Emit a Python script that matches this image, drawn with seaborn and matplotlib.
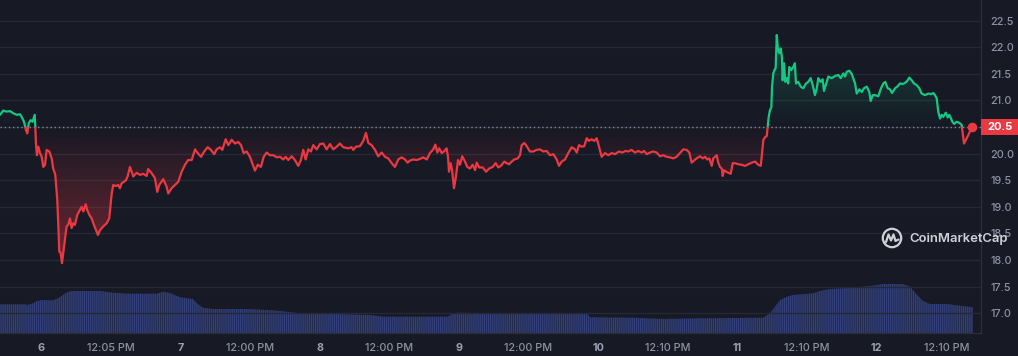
import numpy as np
import pandas as pd
import seaborn as sns
import matplotlib
matplotlib.use("Agg")
import matplotlib.pyplot as plt
import matplotlib.transforms as mtrans
from matplotlib.patches import Rectangle, Circle
from matplotlib.path import Path
from matplotlib.lines import Line2D
from matplotlib.colors import to_rgb

# ---------------- data ----------------
days = [
    5.706, 5.729, 5.754, 5.778, 5.801, 5.826, 5.850, 5.862, 5.878, 5.893,
    5.902, 5.912, 5.926, 5.940, 5.955, 5.959, 5.964, 5.971, 5.981, 5.993,
    6.005, 6.017, 6.029, 6.041, 6.060, 6.077, 6.088, 6.103, 6.117, 6.127,
    6.131, 6.141, 6.151, 6.160, 6.172, 6.184, 6.196, 6.208, 6.220, 6.232,
    6.244, 6.261, 6.280, 6.292, 6.304, 6.321, 6.332, 6.347, 6.364, 6.380,
    6.395, 6.409, 6.424, 6.447, 6.472, 6.490, 6.508, 6.519, 6.538, 6.555,
    6.567, 6.579, 6.596, 6.610, 6.622, 6.639, 6.651, 6.663, 6.687, 6.711,
    6.734, 6.759, 6.770, 6.795, 6.818, 6.835, 6.849, 6.878, 6.902, 6.914,
    6.938, 6.962, 6.986, 7.010, 7.034, 7.057, 7.082, 7.106, 7.125, 7.149,
    7.172, 7.197, 7.220, 7.244, 7.261, 7.285, 7.302, 7.326, 7.345, 7.369,
    7.393, 7.416, 7.436, 7.455, 7.477, 7.500, 7.517, 7.536, 7.556, 7.579,
    7.599, 7.620, 7.644, 7.668, 7.692, 7.716, 7.739, 7.757, 7.775, 7.800,
    7.823, 7.847, 7.866, 7.883, 7.900, 7.919, 7.938, 7.955, 7.979, 8.003,
    8.027, 8.051, 8.075, 8.098, 8.123, 8.146, 8.170, 8.206, 8.230, 8.242,
    8.261, 8.290, 8.314, 8.333, 8.350, 8.374, 8.398, 8.421, 8.446, 8.470,
    8.493, 8.518, 8.541, 8.565, 8.589, 8.613, 8.632, 8.649, 8.673, 8.697,
    8.721, 8.744, 8.769, 8.792, 8.816, 8.831, 8.845, 8.859, 8.877, 8.893,
    8.912, 8.922, 8.929, 8.941, 8.951, 8.965, 8.979, 8.994, 9.008, 9.024,
    9.044, 9.060, 9.080, 9.099, 9.116, 9.128, 9.146, 9.171, 9.195, 9.218,
    9.243, 9.264, 9.283, 9.302, 9.326, 9.343, 9.360, 9.379, 9.398, 9.422,
    9.439, 9.451, 9.470, 9.487, 9.510, 9.534, 9.558, 9.582, 9.606, 9.630,
    9.654, 9.678, 9.702, 9.719, 9.738, 9.762, 9.785, 9.810, 9.833, 9.846,
    9.862, 9.882, 9.900, 9.918, 9.934, 9.953, 9.972, 9.989, 10.006, 10.025,
    10.049, 10.073, 10.097, 10.121, 10.149, 10.173, 10.197, 10.216, 10.240, 10.264,
    10.288, 10.312, 10.330, 10.348, 10.372, 10.395, 10.420, 10.444, 10.467, 10.492,
    10.515, 10.539, 10.563, 10.587, 10.611, 10.635, 10.654, 10.671, 10.688, 10.707,
    10.731, 10.750, 10.767, 10.783, 10.798, 10.815, 10.826, 10.839, 10.851, 10.862,
    10.874, 10.887, 10.894, 10.903, 10.918, 10.934, 10.951, 10.966, 10.982, 11.006,
    11.030, 11.054, 11.078, 11.102, 11.126, 11.149, 11.167, 11.176, 11.186, 11.198,
    11.210, 11.217, 11.224, 11.233, 11.243, 11.248, 11.257, 11.267, 11.274, 11.282,
    11.291, 11.300, 11.310, 11.319, 11.324, 11.334, 11.343, 11.353, 11.364, 11.372,
    11.386, 11.400, 11.412, 11.420, 11.436, 11.454, 11.472, 11.492, 11.508, 11.525,
    11.540, 11.556, 11.569, 11.580, 11.597, 11.611, 11.621, 11.640, 11.652, 11.676,
    11.700, 11.724, 11.741, 11.760, 11.772, 11.784, 11.803, 11.820, 11.844, 11.856,
    11.875, 11.892, 11.908, 11.928, 11.946, 11.956, 11.971, 11.987, 12.011, 12.030,
    12.047, 12.061, 12.078, 12.095, 12.109, 12.131, 12.147, 12.167, 12.186, 12.202,
    12.219, 12.233, 12.251, 12.267, 12.286, 12.305, 12.322, 12.346, 12.370, 12.389,
    12.406, 12.418, 12.430, 12.441, 12.454, 12.466, 12.477, 12.495, 12.509, 12.520,
    12.533, 12.542, 12.556, 12.573, 12.592, 12.609, 12.616, 12.626, 12.657, 12.683,
]
price = [
    20.73, 20.81, 20.79, 20.80, 20.76, 20.73, 20.74, 20.69, 20.60, 20.44,
    20.38, 20.57, 20.63, 20.60, 20.73, 20.54, 20.19, 19.97, 20.13, 20.01,
    19.94, 19.75, 19.79, 20.07, 20.04, 19.91, 19.72, 19.60, 19.13, 18.50,
    18.16, 18.13, 17.94, 18.13, 18.38, 18.63, 18.66, 18.78, 18.60, 18.69,
    18.66, 18.85, 18.94, 19.00, 18.91, 19.05, 18.94, 18.85, 18.78, 18.66,
    18.56, 18.47, 18.56, 18.63, 18.69, 18.78, 19.25, 19.41, 19.39, 19.41,
    19.35, 19.44, 19.47, 19.50, 19.57, 19.75, 19.66, 19.57, 19.64, 19.60,
    19.62, 19.58, 19.71, 19.63, 19.54, 19.28, 19.41, 19.52, 19.38, 19.25,
    19.35, 19.41, 19.47, 19.66, 19.79, 19.88, 19.88, 20.08, 20.01, 19.94,
    20.04, 20.12, 20.07, 19.99, 20.08, 20.12, 20.07, 20.27, 20.16, 20.26,
    20.19, 20.22, 20.16, 20.01, 20.04, 19.94, 19.82, 19.68, 19.79, 19.75,
    19.94, 20.02, 19.97, 19.97, 19.93, 19.94, 19.89, 19.94, 19.88, 19.95,
    19.88, 19.77, 19.88, 20.07, 19.89, 20.08, 20.04, 20.16, 20.08, 20.18,
    20.19, 20.08, 20.18, 20.08, 20.13, 20.19, 20.12, 20.10, 20.12, 20.07,
    20.13, 20.14, 20.24, 20.39, 20.20, 20.16, 20.07, 19.95, 20.02, 19.94,
    19.91, 19.82, 19.75, 19.89, 19.93, 19.89, 19.83, 19.87, 19.89, 19.88,
    19.90, 19.93, 19.89, 20.01, 20.08, 20.17, 20.02, 20.10, 20.01, 20.04,
    20.10, 19.94, 19.66, 19.82, 19.69, 19.35, 19.57, 19.88, 19.79, 19.95,
    19.85, 19.75, 19.72, 19.79, 19.69, 19.83, 19.74, 19.74, 19.66, 19.72,
    19.75, 19.82, 19.74, 19.77, 19.85, 19.82, 19.80, 19.85, 19.89, 19.91,
    19.97, 20.16, 20.20, 20.14, 20.04, 20.04, 20.07, 20.08, 20.04, 20.05,
    19.97, 19.99, 19.89, 19.77, 19.85, 19.89, 20.01, 20.12, 20.08, 20.02,
    20.16, 20.13, 20.14, 20.29, 20.24, 20.27, 20.24, 20.29, 20.13, 19.94,
    20.01, 19.97, 20.01, 19.99, 20.04, 20.02, 20.05, 20.04, 20.07, 20.02,
    20.05, 20.02, 20.05, 19.99, 20.02, 20.04, 20.02, 19.95, 19.97, 19.94,
    19.93, 19.91, 19.94, 20.01, 20.08, 20.07, 20.02, 19.83, 19.87, 19.91,
    19.95, 19.91, 19.94, 19.89, 19.91, 19.77, 19.91, 19.94, 19.97, 19.83,
    19.75, 19.72, 19.58, 19.69, 19.66, 19.64, 19.62, 19.82, 19.82, 19.80,
    19.79, 19.77, 19.80, 19.83, 19.85, 19.79, 19.77, 20.01, 20.26, 20.31,
    20.33, 20.52, 20.69, 20.82, 20.87, 21.26, 21.51, 21.58, 21.61, 22.23,
    21.95, 21.89, 21.98, 21.82, 21.38, 21.70, 21.35, 21.42, 21.32, 21.63,
    21.57, 21.63, 21.70, 21.32, 21.35, 21.26, 21.23, 21.32, 21.35, 21.42,
    21.29, 21.10, 21.23, 21.42, 21.35, 21.40, 21.18, 21.35, 21.45, 21.42,
    21.46, 21.48, 21.42, 21.51, 21.45, 21.54, 21.56, 21.50, 21.32, 21.13,
    21.21, 21.16, 21.23, 21.26, 21.16, 20.99, 21.10, 21.10, 21.08, 21.23,
    21.32, 21.35, 21.23, 21.21, 21.14, 21.23, 21.26, 21.32, 21.31, 21.33,
    21.37, 21.43, 21.38, 21.32, 21.29, 21.23, 21.13, 21.10, 21.13, 21.12,
    21.14, 21.10, 21.04, 20.79, 20.66, 20.73, 20.69, 20.77, 20.68, 20.73,
    20.66, 20.60, 20.56, 20.60, 20.58, 20.54, 20.39, 20.19, 20.35, 20.50,
]

vol_days = [
    5.706, 5.885, 5.899, 5.943, 5.971, 6.014, 6.086, 6.122, 6.151, 6.187,
    6.223, 6.424, 6.517, 6.617, 6.833, 6.876, 6.926, 6.962, 6.998, 7.091,
    7.127, 7.163, 7.235, 7.479, 7.622, 7.716, 7.859, 8.096, 8.362, 8.455,
    8.915, 8.950, 8.986, 9.295, 9.920, 9.941, 10.250, 10.465, 10.731, 11.183,
    11.233, 11.269, 11.305, 11.355, 11.398, 11.542, 11.592, 11.664, 11.829, 11.973,
    12.045, 12.188, 12.239, 12.289, 12.332, 12.379, 12.501, 12.594, 12.690,
]
volume = [
    29.0, 29.0, 28.3, 30.0, 32.3, 33.3, 33.0, 35.0, 37.6, 41.0,
    42.3, 42.3, 40.6, 39.6, 39.6, 41.6, 40.3, 38.3, 36.0, 34.3,
    29.0, 25.6, 24.3, 24.3, 23.3, 22.3, 20.0, 19.3, 18.3, 16.6,
    16.6, 19.0, 20.6, 20.0, 20.0, 16.0, 15.6, 14.3, 15.0, 15.6,
    20.0, 26.6, 33.3, 36.6, 38.3, 40.0, 42.3, 44.3, 45.6, 47.6,
    49.3, 49.3, 46.6, 38.3, 32.3, 29.3, 29.3, 27.6, 26.0,
]

tick_pos = [6, 6.5, 7, 7.5, 8, 8.5, 9, 9.5, 10, 10.5, 11, 11.5, 12, 12.5]
tick_labels = ["6", "12:05 PM", "7", "12:00 PM", "8", "12:00 PM", "9", "12:00 PM",
               "10", "12:10 PM", "11", "12:10 PM", "12", "12:10 PM"]
y_ticks = [17.0, 17.5, 18.0, 18.5, 19.0, 19.5, 20.0, 20.5, 21.0, 21.5, 22.0, 22.5]
base_price = 20.5
last_label = "20.5"

# ---------------- style ----------------
BG = "#171924"
GRID = "#252937"
GREEN = "#16c784"
RED = "#ea3943"
VOL = "#33407a"
TXT = "#8d93a6"

sns.set_style("dark")
plt.rcParams["font.family"] = ["Inter", "DejaVu Sans"]
plt.rcParams["hatch.linewidth"] = 0.9

fig = plt.figure(figsize=(10.18, 3.56), dpi=100, facecolor=BG)
rect = [0.0, 22.7 / 356, 981 / 1018, 333.3 / 356]
ax_vol = fig.add_axes(rect)
ax = fig.add_axes(rect, sharex=ax_vol)
ax.patch.set_visible(False)
ax_vol.set_facecolor(BG)

# volume (bottom band)
ax_vol.fill_between(vol_days, volume, 0, facecolor="#1f2747", edgecolor=VOL,
                    hatch="|" * 8, linewidth=0)
ax_vol.set_ylim(0, 333.3)
ax_vol.set_yticks([])
ax_vol.tick_params(axis="x", labelbottom=False, length=0)
for s in ax_vol.spines.values():
    s.set_visible(False)
ax_vol.grid(False)

# price line
df = pd.DataFrame({"day": days, "price": price})
x0, x1 = 5.706, 12.748
y0, y1 = 16.62, 22.89

above = df["price"].values >= base_price
below = df["price"].values <= base_price


def gradient_fill(where, color, y_far, alpha_max):
    coll = ax.fill_between(df["day"], df["price"], base_price, where=where,
                           interpolate=True, facecolor="none", edgecolor="none")
    clip = Path.make_compound_path(*coll.get_paths())
    n = 256
    ys = np.linspace(y0, y1, n)
    a = np.clip((ys - base_price) / (y_far - base_price), 0, 1) * alpha_max
    img = np.zeros((n, 1, 4))
    img[:, 0, :3] = to_rgb(color)
    img[:, 0, 3] = a
    im = ax.imshow(img, extent=[x0, x1, y0, y1], origin="lower", aspect="auto",
                   interpolation="bilinear", zorder=1)
    im.set_clip_path(clip, transform=ax.transData)


gradient_fill(above, GREEN, 22.3, 0.28)
gradient_fill(below, RED, 17.9, 0.42)

sns.lineplot(data=df, x="day", y="price", ax=ax, color=GREEN, lw=1.6,
             sort=False, estimator=None, zorder=4)
ln_up = ax.lines[-1]
ln_up.set_clip_path(Rectangle((x0 - 1, base_price), 10, 10, transform=ax.transData))
sns.lineplot(data=df, x="day", y="price", ax=ax, color=RED, lw=1.6,
             sort=False, estimator=None, zorder=4)
ln_dn = ax.lines[-1]
ln_dn.set_clip_path(Rectangle((x0 - 1, base_price - 10), 10, 10, transform=ax.transData))

# baseline (dotted)
ax.axhline(base_price, color="#80869a", lw=1.0, ls=(0, (1, 2)), zorder=3)

# last price dot
ax.scatter([days[-1]], [price[-1]], s=48, color=RED, zorder=6, linewidths=0)

ax.set_xlim(x0, x1)
ax.set_ylim(y0, y1)

# axes styling
ax.yaxis.tick_right()
ax.set_yticks(y_ticks)
ax.set_yticklabels(["" if abs(v - base_price) < 1e-9 else f"{v:.1f}" for v in y_ticks])
ax.tick_params(axis="y", length=0, pad=7, labelsize=7.8, labelcolor=TXT)
ax.set_xticks(tick_pos)
ax.set_xticklabels(tick_labels)
ax.tick_params(axis="x", length=0, pad=7, labelsize=7.8, labelcolor=TXT)
for lbl in ax.get_yticklabels():
    lbl.set_fontweight("medium")
for lbl in ax.get_xticklabels():
    if ":" not in lbl.get_text():
        lbl.set_fontweight("bold")
        lbl.set_color("#9aa0b3")
    else:
        lbl.set_fontweight("medium")
ax.set_xlabel("")
ax.set_ylabel("")
ax.grid(axis="y", color=GRID, lw=1.0)
ax.grid(axis="x", visible=False)
ax.set_axisbelow(True)
for k, s in ax.spines.items():
    s.set_visible(k in ("right", "bottom"))
    s.set_color("#2a2e3b")
    s.set_linewidth(1.0)

# last price label box on the right axis
blend = mtrans.blended_transform_factory(ax.transAxes, ax.transData)
box_w = 37.3 / 981
box_h = 15.7 / 53.2
ax.add_patch(Rectangle((1.0, base_price - box_h / 2), box_w, box_h, transform=blend,
                       facecolor=RED, edgecolor="none", clip_on=False, zorder=7))
ax.text(1.0 + box_w / 2, base_price, last_label, transform=blend, ha="center",
        va="center", color="white", fontsize=8, fontweight="bold", zorder=8,
        clip_on=False)

# CoinMarketCap watermark
WM = "#e4e6ee"
fig.add_artist(Circle((8.92, (356 - 238) / 100), 0.092, transform=fig.dpi_scale_trans,
                      facecolor="none", edgecolor=WM, lw=1.6, alpha=0.9))
wx = np.array([-6, -3.5, -1, 1.5, 3.5, 6.5])
wy = np.array([4, -3.5, 2.5, -3.5, 3, 1.5])
fig.add_artist(Line2D((892 + wx) / 100, (356 - (238 + wy)) / 100,
                      transform=fig.dpi_scale_trans, color=WM, lw=1.6, alpha=0.9,
                      solid_joinstyle="round", solid_capstyle="round"))
fig.text(909 / 1018, (356 - 239) / 356, "CoinMarketCap", ha="left", va="center",
         color=WM, fontsize=9.4, fontweight="semibold", alpha=0.9)

fig.savefig("out.png", dpi=100, facecolor=BG)
